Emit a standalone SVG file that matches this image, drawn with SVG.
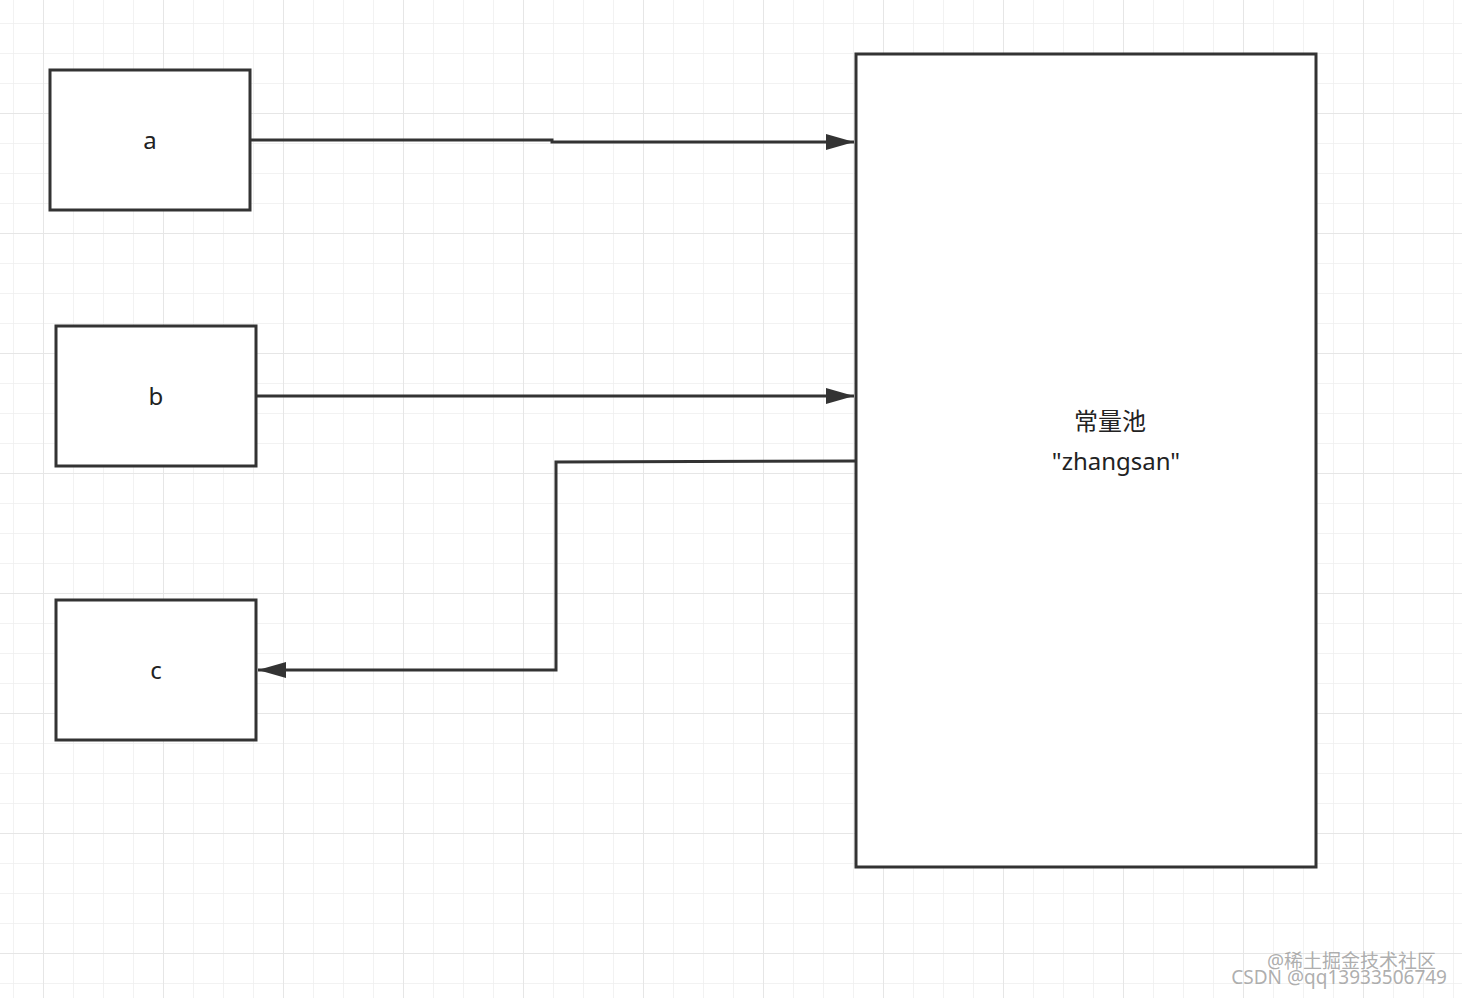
<svg xmlns="http://www.w3.org/2000/svg" width="1462" height="998" viewBox="0 0 1462 998">
<defs>
<pattern id="g" width="30" height="30" patternUnits="userSpaceOnUse" x="13" y="23">
<path d="M0 0V30M0 0H30" fill="none" stroke="#eeeeee" stroke-width="1.5"/>
</pattern>
<pattern id="G" width="120" height="120" patternUnits="userSpaceOnUse" x="43" y="113">
<path d="M0 0V120M0 0H120" fill="none" stroke="#e6e6e6" stroke-width="2"/>
</pattern>
<marker id="ar" markerWidth="28" markerHeight="16" refX="28" refY="8" orient="auto" markerUnits="userSpaceOnUse">
<path d="M0 0L28 8L0 16Z" fill="#333"/>
</marker>
<style>
.n{fill:#fff;stroke:#333;stroke-width:3}
.t{font-family:"Noto Sans","Noto Sans CJK SC",sans-serif;font-size:24px;fill:#222;text-anchor:middle}
.c{fill:none;stroke:#333;stroke-width:3}
</style>
</defs>
<rect width="1462" height="998" fill="#fff"/>
<rect width="1462" height="998" fill="url(#g)"/>
<rect width="1462" height="998" fill="url(#G)"/>
<g id="a"><rect class="n" x="50" y="70" width="200" height="140"/><text class="t" x="150" y="149">a</text></g>
<g id="b"><rect class="n" x="56" y="326" width="200" height="140"/><text class="t" x="156" y="405">b</text></g>
<g id="c"><rect class="n" x="56" y="600" width="200" height="140"/><text class="t" x="156" y="679">c</text></g>
<g id="pool"><rect class="n" x="856" y="54" width="460" height="813"/>
<text class="t" x="1110" y="430">常量池</text>
<text class="t" x="1116" y="470">"zhangsan"</text></g>
<g id="connectors">
<path class="c" d="M250 140H552V142H854" marker-end="url(#ar)"/>
<path class="c" d="M256 396H854" marker-end="url(#ar)"/>
<path class="c" d="M856 461L556 462V670H258" marker-end="url(#ar)"/>
</g>
<g font-family="Noto Sans,Noto Sans CJK SC,sans-serif" font-size="19" fill="#999" fill-opacity="0.8" text-anchor="end">
<text x="1436" y="968">@稀土掘金技术社区</text>
<text x="1447" y="984">CSDN @qq13933506749</text>
</g>
</svg>
